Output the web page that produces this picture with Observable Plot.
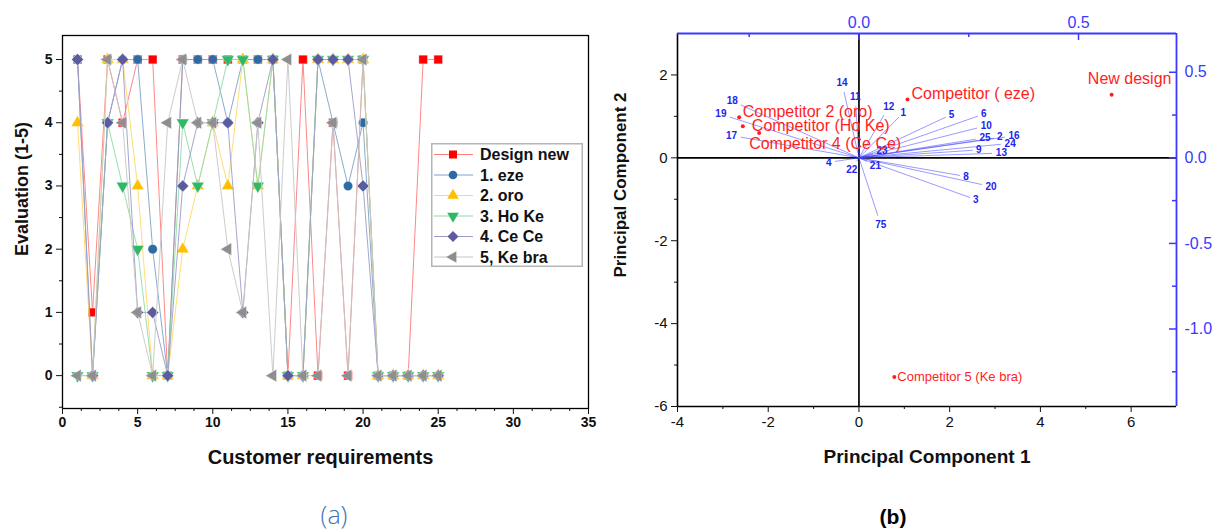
<!DOCTYPE html>
<html><head><meta charset="utf-8">
<script src="https://cdn.jsdelivr.net/npm/d3@7"></script>
<script src="https://cdn.jsdelivr.net/npm/@observablehq/plot@0.6"></script>
<style>
html,body{margin:0;padding:0;background:#fff;}
body{width:1217px;height:531px;overflow:hidden;position:relative;font-family:"Liberation Sans",Arial,sans-serif;}
#a{position:absolute;left:0;top:0;width:600px;height:480px;}
#b{position:absolute;left:600px;top:0;width:617px;height:480px;}
#legend{position:absolute;left:431px;top:143px;width:152px;height:124px;}
.cap{position:absolute;transform:translate(-50%,-50%);white-space:nowrap;line-height:1;}
#capA{left:334px;top:514px;font-family:"Open Sans",sans-serif;font-weight:300;font-size:25px;color:#3f6fb8;}
#capB{left:893px;top:516px;font-family:"Liberation Sans",Arial,sans-serif;font-weight:bold;font-size:21px;color:#000;}
</style></head>
<body>
<div id="a"></div><div id="b"></div><div id="legend"></div>
<div class="cap" id="capA">(a)</div><div class="cap" id="capB">(b)</div>
<script>
// ---------------- Panel (a) data ----------------
const requirements = [1,2,3,4,5,6,7,8,9,10,11,12,13,14,15,16,17,18,19,20,21,22,23,24,25];
const designNew = [5,1,5,4,5,5,0,5,5,5,5,5,5,5,0,5,0,4,0,5,0,0,0,5,5];
const eze       = [5,0,4,5,5,2,0,5,5,5,4,5,5,5,0,0,5,4,3,4,0,0,0,0,0];
const oro       = [4,0,5,5,3,0,0,2,3,4,3,5,3,5,0,0,5,5,5,5,0,0,0,0,0];
const hoKe      = [0,0,4,3,2,0,0,4,3,4,5,5,3,5,0,0,5,5,5,5,0,0,0,0,0];
const ceCe      = [5,0,4,5,1,1,0,3,4,4,4,1,4,5,0,0,5,5,5,3,0,0,0,0,0];
const keBra     = [0,0,5,4,1,0,4,5,4,4,2,1,4,0,5,0,0,4,0,5,0,0,0,0,0];
const seriesNames = ["Design new","1. eze","2. oro","3. Ho Ke","4. Ce Ce","5, Ke bra"];
const xTicksA = [0,5,10,15,20,25,30,35];
const yTicksA = [0,1,2,3,4,5];

// ---------------- Panel (b) data ----------------
const competitorNames = ["New design","Competitor ( eze)","Competitor 2 (oro)","Competitor (Ho Ke)","Competitor 4 (Ce Ce)","Competitor 5 (Ke bra)"];
const competitorPC1 = [5.57, 1.07, -2.64, -2.56, -2.20, 0.78];
const competitorPC2 = [1.52, 1.41, 0.98, 0.76, 0.60, -5.29];
const loadingLabels = ["1","2","3","4","5","6","8","9","10","11","12","13","14","16","17","18","19","20","21","22","23","24","25","75"];
const loadingPC1 = [0.091,0.307,0.253,-0.055,0.198,0.271,0.230,0.259,0.269,-0.007,0.057,0.303,-0.034,0.332,-0.269,-0.269,-0.294,0.280,0.018,-0.005,0.032,0.323,0.266,0.043];
const loadingPC2 = [0.238,0.115,-0.232,-0.021,0.238,0.244,-0.103,0.044,0.174,0.303,0.250,0.026,0.385,0.121,0.121,0.309,0.238,-0.156,-0.021,-0.021,0.026,0.079,0.109,-0.338];
const xTicksB = [-4,-2,0,2,4,6];
const yTicksB = [-6,-4,-2,0,2];
const topTicks = [0.0, 0.5];        // loading axis (top)
const rightTicks = [0.5, 0.0, -0.5, -1.0]; // loading axis (right)
// loading 0.5 sits at PC1 = 4.84 (top axis) and at PC2 = 2.065 (right axis)
const loadToPC1 = 4.84 / 0.5;
const loadToPC2 = 2.065 / 0.5;

// ---------------- symbols ----------------
const sqrt3 = Math.sqrt(3);
const triDown = {draw(c, size){const h=Math.sqrt(size/(sqrt3*3)), s=sqrt3*h; c.moveTo(0,2*h); c.lineTo(-s,-h); c.lineTo(s,-h); c.closePath();}};
const triLeft = {draw(c, size){const h=Math.sqrt(size/(sqrt3*3)), s=sqrt3*h; c.moveTo(-2*h,0); c.lineTo(h,-s); c.lineTo(h,s); c.closePath();}};

const seriesStyle = [
  {fill:"#ff0000", line:"#ff7a7a", symbol:d3.symbolSquare, r:4.9},
  {fill:"#2e6aa3", line:"#7ea2c8", symbol:d3.symbolCircle, r:4.7},
  {fill:"#ffc000", line:"#ffd866", symbol:d3.symbolTriangle, r:4.7},
  {fill:"#2fb866", line:"#8ddca8", symbol:triDown, r:4.7},
  {fill:"#5b5b9f", line:"#9c9cc8", symbol:d3.symbolDiamond2, r:5.4},
  {fill:"#8e8e8e", line:"#c6c6c6", symbol:triLeft, r:4.7}
];
const seriesValues = [designNew, eze, oro, hoKe, ceCe, keBra];
const hyph = d => String(d).replace("\u2212","-");

// ---------------- Panel (a) ----------------
const marksA = [Plot.frame({stroke:"#000", strokeWidth:1.3})];
seriesValues.forEach((vals, k) => {
  const st = seriesStyle[k];
  const data = requirements.map((x,i) => ({x, y: vals[i]}));
  marksA.push(Plot.line(data, {x:"x", y:"y", stroke:st.line, strokeWidth:1, strokeOpacity:0.9}));
  marksA.push(Plot.dot(data, {x:"x", y:"y", fill:st.fill, symbol:st.symbol, r:st.r, stroke:"#fff", strokeWidth:0.4}));
});
const minorXA = d3.range(0, 35.001, 1.25).filter(v => v % 5 !== 0);
const minorYA = d3.range(-0.5, 5.001, 0.5).filter(v => v % 1 !== 0);
marksA.push(
  Plot.axisX({ticks:xTicksA, tickSize:6, tickPadding:3, fontSize:14, fontWeight:"bold", label:null, tickFormat:d=>String(d)}),
  Plot.axisX({ticks:minorXA, tickSize:3, tickFormat:()=>"", label:null}),
  Plot.axisY({ticks:yTicksA, tickSize:6, tickPadding:4, fontSize:14, fontWeight:"bold", label:null, tickFormat:d=>String(d)}),
  Plot.axisY({ticks:minorYA, tickSize:3, tickFormat:()=>"", label:null}),
  Plot.text(["Customer requirements"], {text:d=>d, frameAnchor:"bottom", dx:-5, dy:55, fontSize:20, fontWeight:"bold", fill:"#111"}),
  Plot.text(["Evaluation (1-5)"], {text:d=>d, frameAnchor:"left", dx:-40, dy:-33, rotate:-90, textAnchor:"middle", fontSize:18, fontWeight:"bold", fill:"#111"})
);
const plotA = Plot.plot({
  width:600, height:480, marginLeft:62, marginRight:12, marginTop:35, marginBottom:72,
  x:{domain:[0,35]}, y:{domain:[-0.52,5.38]},
  style:{fontFamily:"'Liberation Sans', Arial, sans-serif", background:"transparent", maxWidth:"none", color:"#111"},
  marks: marksA
});
document.getElementById("a").appendChild(plotA);

// legend
const lg = d3.select("#legend").append("svg").attr("width",152).attr("height",124)
  .style("font-family","'Liberation Sans', Arial, sans-serif");
lg.append("rect").attr("x",0.75).attr("y",0.75).attr("width",150.5).attr("height",122.5)
  .attr("fill","#fff").attr("stroke","#b5b5b5").attr("stroke-width",1.5);
seriesNames.forEach((name,i) => {
  const st = seriesStyle[i], y = 11.5 + i*20.5;
  lg.append("line").attr("x1",3).attr("x2",42).attr("y1",y).attr("y2",y).attr("stroke",st.line).attr("stroke-width",1.2);
  lg.append("path").attr("d", d3.symbol(st.symbol, Math.PI*st.r*st.r*0.85)()).attr("transform",`translate(22,${y})`).attr("fill",st.fill);
  lg.append("text").attr("x",49).attr("y",y).attr("dy","0.36em").attr("font-size",16).attr("font-weight","bold").attr("fill","#111").text(name);
});

// ---------------- Panel (b) ----------------
const W = 617, H = 480, mL = 77, mR = 41, mT = 33, mB = 74;
const xDomB = [-4,7], yDomB = [-6,3];
const pxX = (W-mL-mR)/(xDomB[1]-xDomB[0]);
const pxY = (H-mT-mB)/(yDomB[1]-yDomB[0]);
const blue = "#3a3aff";
const red = "#ff1e1e";

const loadings = loadingLabels.map((id,i) => {
  const x2 = loadingPC1[i]*loadToPC1, y2 = loadingPC2[i]*loadToPC2;
  const dxp = x2*pxX, dyp = y2*pxY, len = Math.hypot(dxp,dyp) || 1;
  const off = 3 + 3.2*id.length;
  return {id, x2, y2, lx: x2 + dxp/len*off/pxX, ly: y2 + dyp/len*off/pxY};
});
const comps = competitorNames.map((name,i) => ({name, x:competitorPC1[i], y:competitorPC2[i]}));
const compLabel = (name, opts) => Plot.text(comps.filter(d=>d.name===name), {x:"x", y:"y", text:"name", fill:red, fontSize:16, textAnchor:"start", ...opts});

const innerW = W-mL-mR, innerH = H-mT-mB;
const marksB = [
  Plot.ruleX([0], {stroke:"#000", strokeWidth:1.7}),
  Plot.ruleY([0], {stroke:"#000", strokeWidth:1.7}),
  Plot.link(loadings, {x1:()=>0, y1:()=>0, x2:"x2", y2:"y2", stroke:"#3d3dff", strokeWidth:0.7, strokeOpacity:0.75}),
  Plot.text(loadings, {x:"lx", y:"ly", text:"id", fill:"#2323ee", fontSize:10, fontWeight:"bold"}),
  Plot.dot(comps, {x:"x", y:"y", r:2, fill:red}),
  compLabel("New design", {textAnchor:"middle", dx:18, dy:-16}),
  compLabel("Competitor ( eze)", {dx:4, dy:-6}),
  compLabel("Competitor 2 (oro)", {dx:3.5, dy:-5}),
  compLabel("Competitor (Ho Ke)", {dx:9, dy:0}),
  compLabel("Competitor 4 (Ce Ce)", {dx:-10, dy:11}),
  compLabel("Competitor 5 (Ke bra)", {dx:3, dy:0, fontSize:13}),
  // frame: black left/bottom, blue top/right
  Plot.ruleX([xDomB[0]], {stroke:"#000", strokeWidth:1.6}),
  Plot.ruleY([yDomB[0]], {stroke:"#000", strokeWidth:1.6}),
  Plot.ruleY([yDomB[1]], {stroke:blue, strokeWidth:1.8}),
  Plot.ruleX([xDomB[1]], {stroke:blue, strokeWidth:1.8}),
  Plot.axisX({ticks:xTicksB, tickSize:6, tickPadding:4, fontSize:15, label:null, fill:"#111", tickFormat:hyph}),
  Plot.axisX({ticks:[-3,-1,1,3,5], tickSize:3, tickFormat:()=>"", label:null}),
  Plot.axisY({ticks:yTicksB, tickSize:6, tickPadding:4, fontSize:15, label:null, fill:"#111", tickFormat:hyph}),
  Plot.axisY({ticks:[-5,-3,-1,1], tickSize:3, tickFormat:()=>"", label:null}),
  // secondary (loading) axes, inward ticks
  Plot.tickX(topTicks, {x:d=>d*loadToPC1, stroke:blue, strokeWidth:1.5, insetBottom:innerH-7}),
  Plot.tickX([-0.25,0.25], {x:d=>d*loadToPC1, stroke:blue, strokeWidth:1.5, insetBottom:innerH-4}),
  Plot.text(topTicks, {x:d=>d*loadToPC1, text:d=>d.toFixed(1), frameAnchor:"top", dy:-17, fill:blue, fontSize:16}),
  Plot.tickY(rightTicks, {y:d=>d*loadToPC2, stroke:blue, strokeWidth:1.5, insetLeft:innerW-7}),
  Plot.tickY([0.25,-0.25,-0.75,-1.25], {y:d=>d*loadToPC2, stroke:blue, strokeWidth:1.5, insetLeft:innerW-4}),
  Plot.text(rightTicks, {y:d=>d*loadToPC2, text:d=>d.toFixed(1), frameAnchor:"right", dx:8, textAnchor:"start", fill:blue, fontSize:16}),
  Plot.text(["Principal Component 1"], {text:d=>d, frameAnchor:"bottom", dy:56, fontSize:19, fontWeight:"bold", fill:"#111"}),
  Plot.text(["Principal Component 2"], {text:d=>d, frameAnchor:"left", dx:-57, dy:-35, rotate:-90, textAnchor:"middle", fontSize:17, fontWeight:"bold", fill:"#111"})
];
const plotB = Plot.plot({
  width:W, height:H, marginLeft:mL, marginRight:mR, marginTop:mT, marginBottom:mB,
  x:{domain:xDomB}, y:{domain:yDomB},
  style:{fontFamily:"'Liberation Sans', Arial, sans-serif", background:"transparent", maxWidth:"none", overflow:"visible", color:"#111"},
  marks: marksB
});
document.getElementById("b").appendChild(plotB);
</script>
</body></html>
